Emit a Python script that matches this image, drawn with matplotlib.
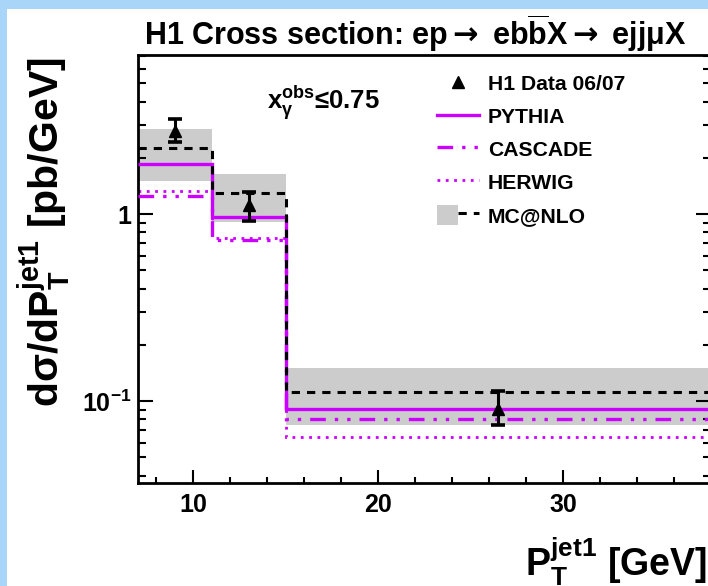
import matplotlib
matplotlib.use('Agg')
import matplotlib.pyplot as plt
import numpy as np
from matplotlib.patches import Patch, Rectangle
from matplotlib.lines import Line2D
from matplotlib.ticker import MultipleLocator, LogLocator, NullFormatter
from matplotlib.legend_handler import HandlerTuple
from matplotlib.font_manager import FontProperties

# ---------------- data ----------------
bin_edges = [7, 11, 15, 38]
pythia = [1.85, 0.97, 0.0905]
cascade = [1.25, 0.725, 0.0805]
herwig = [1.33, 0.745, 0.0645]
mcnlo = [2.25, 1.30, 0.112]
mcnlo_lo = [1.50, 0.91, 0.075]
mcnlo_hi = [2.85, 1.65, 0.151]
data_x = [9, 13, 26.5]
data_y = [2.79, 1.12, 0.0905]
data_lo = [2.42, 0.921, 0.0742]
data_hi = [3.21, 1.317, 0.1136]
x_ticks = [10, 20, 30]
x_ticklabels = ['10', '20', '30']
y_ticks = [0.1, 1]
y_ticklabels = ['10$^{\\mathbf{-1}}$', '1']
legend_labels = ['H1 Data 06/07', 'PYTHIA', 'CASCADE', 'HERWIG', 'MC@NLO']

# ---------------- style ----------------
plt.rcParams['font.family'] = ['Liberation Sans', 'DejaVu Sans']
plt.rcParams['font.weight'] = 'bold'
plt.rcParams['mathtext.fontset'] = 'custom'
plt.rcParams['mathtext.rm'] = 'Liberation Sans:bold'
plt.rcParams['mathtext.it'] = 'Liberation Sans:bold'
plt.rcParams['mathtext.bf'] = 'Liberation Sans:bold'
plt.rcParams['mathtext.sf'] = 'DejaVu Sans'

MAG = '#cc00ff'
GREY = '#cccccc'
W, H = 708, 586

fig = plt.figure(figsize=(W / 100, H / 100), dpi=100, facecolor='#a9d5f8')
fig.add_artist(Rectangle((7 / W, 0), 1, 1 - 9 / H, transform=fig.transFigure,
                         facecolor='white', edgecolor='none', zorder=-5))

ax_l, ax_r, ax_t, ax_b = 137.7, 711, 55, 483
ax = fig.add_axes([ax_l / W, (H - ax_b) / H, (ax_r - ax_l) / W, (ax_b - ax_t) / H])
ax.set_facecolor('white')
ax.set_yscale('log')
ax.set_xlim(7, 38)
ax.set_ylim(0.0365, 7.1)

# MC@NLO uncertainty band
ax.stairs(mcnlo_hi, bin_edges, baseline=mcnlo_lo, fill=True, color=GREY, lw=0, zorder=1)

ls_cascade = (0, (4.7, 2.7, 1.0, 2.7, 1.0, 2.7))
ls_herwig = (0, (1.0, 2.0))
ls_mcnlo = (0, (2.7, 2.3))

ax.stairs(herwig, bin_edges, baseline=None, color=MAG, lw=2.0, ls=ls_herwig, zorder=2)
ax.stairs(cascade, bin_edges, baseline=None, color=MAG, lw=2.4, ls=ls_cascade, zorder=3)
ax.stairs(pythia, bin_edges, baseline=None, color=MAG, lw=2.4, zorder=4)
ax.stairs(mcnlo, bin_edges, baseline=None, color='black', lw=2.2, ls=ls_mcnlo, zorder=5)

dy = np.array(data_y)
yerr = [dy - np.array(data_lo), np.array(data_hi) - dy]
ax.errorbar(data_x, data_y, yerr=yerr, fmt='^', color='black', ms=9,
            elinewidth=2.2, capsize=5, capthick=2.6, zorder=6)

# axes styling
for s in ax.spines.values():
    s.set_linewidth(2.0)
ax.tick_params(axis='both', which='both', direction='in', width=1.5)
ax.tick_params(axis='y', which='both', left=True, right=True)
ax.tick_params(axis='y', which='major', length=11, pad=4.5, labelsize=18)
ax.tick_params(axis='y', which='minor', length=6)
ax.tick_params(axis='x', which='major', length=9.5, pad=7, labelsize=18)
ax.tick_params(axis='x', which='minor', length=4.5)
ax.set_xticks(x_ticks)
ax.set_xticklabels(x_ticklabels, fontweight='bold')
ax.xaxis.set_minor_locator(MultipleLocator(2))
ax.set_yticks(y_ticks)
ax.set_yticklabels(y_ticklabels, fontweight='bold')
ax.yaxis.set_minor_locator(LogLocator(base=10, subs=np.arange(2, 10)))
ax.yaxis.set_minor_formatter(NullFormatter())

# legend
h_data = Line2D([], [], marker='^', color='black', ls='none', ms=9)
h_py = Line2D([], [], color=MAG, lw=2.4)
h_cas = Line2D([], [], color=MAG, lw=2.4, ls=ls_cascade)
h_her = Line2D([], [], color=MAG, lw=2.0, ls=ls_herwig)
h_mc = (Patch(facecolor=GREY, edgecolor='none'), Line2D([], [], color='black', lw=2.2, ls=ls_mcnlo))
ax.legend([h_data, h_py, h_cas, h_her, h_mc], legend_labels,
          loc='upper left', bbox_to_anchor=(0.522, 0.958), frameon=False,
          borderpad=0, borderaxespad=0, handlelength=2.0, handletextpad=0.42,
          labelspacing=0.55, handleheight=1.1,
          prop=FontProperties(family='Liberation Sans', weight='bold', size=15.2),
          handler_map={tuple: HandlerTuple(ndivide=None)})

ax.text(0.2255, 0.874, '$\\mathrm{x}_{\\gamma}^{\\mathrm{obs}}$\u22640.75', transform=ax.transAxes,
        ha='left', va='baseline', fontsize=18.5, fontweight='bold')

# title and axis labels
fig.text(415 / W, 1 - 45 / H,
         'H1 Cross section: ep$\\mathsf{\\rightarrow}$ eb$\\overline{\\mathrm{b}}$X$\\mathsf{\\rightarrow}$ ejj\u03bcX',
         ha='center', va='baseline', fontsize=22, fontweight='bold')
fig.text(44 / W, 1 - 232 / H, 'd\u03c3/dP$_{\\mathrm{T}}^{\\mathrm{jet1}}$ [pb/GeV]',
         rotation=90, ha='center', va='center', fontsize=29.5, fontweight='bold')
fig.text(707 / W, 1 - 575 / H, 'P$_{\\mathrm{T}}^{\\mathrm{jet1}}$ [GeV]',
         ha='right', va='baseline', fontsize=27, fontweight='bold')

fig.savefig('out.png', dpi=100, facecolor=fig.get_facecolor())
